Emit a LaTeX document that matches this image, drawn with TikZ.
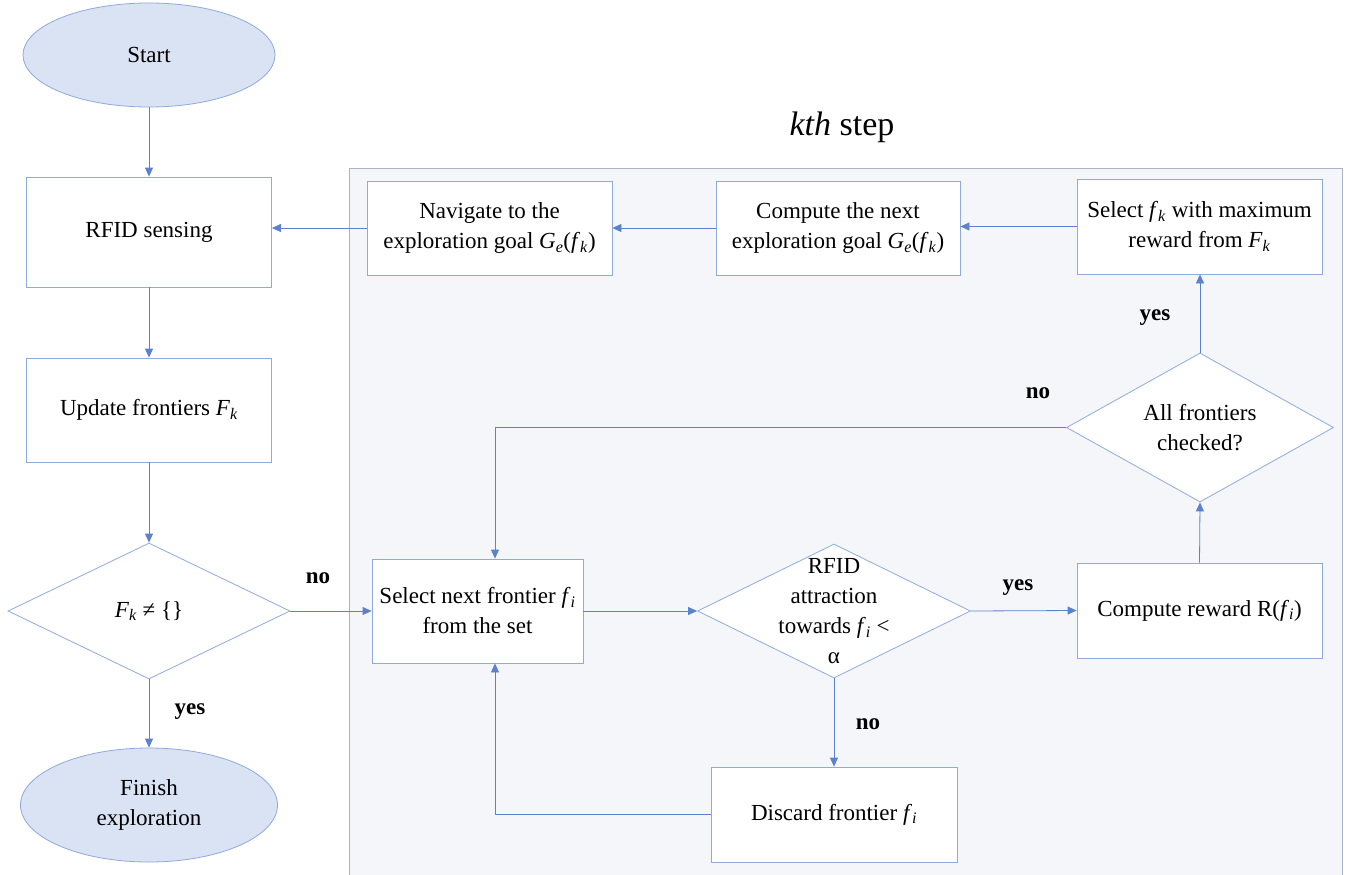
\documentclass[tikz,border=0pt]{standalone}
\usepackage{fontspec}
\setmainfont{Liberation Serif}
\usetikzlibrary{arrows.meta,shapes.geometric}
\definecolor{bord}{HTML}{8FAADC}
\definecolor{arr}{HTML}{5B82CC}
\definecolor{efill}{HTML}{DAE3F3}
\definecolor{regfill}{HTML}{F4F6FA}
\definecolor{regbord}{HTML}{A9B4C6}
\newcommand{\sv}[2]{\textit{#1}\textsubscript{\textit{#2}}}
\tikzset{
  txt/.style={font=\fontsize{23}{30}\selectfont, align=center},
  box/.style={txt, draw=bord, fill=white, line width=0.8pt, inner sep=0pt},
  term/.style={txt, ellipse, draw=bord, fill=efill, line width=0.8pt, inner sep=0pt},
  dia/.style={diamond, draw=bord, fill=white, line width=0.8pt, inner sep=0pt},
  lbl/.style={font=\fontsize{23}{26}\selectfont\bfseries},
  conn/.style={draw=arr, line width=0.8pt, -{Triangle[length=9pt,width=8pt]}},
}
\begin{document}
\begin{tikzpicture}[x=1pt,y=-1pt]
\useasboundingbox (0,0) rectangle (1354,875);
\fill[white] (0,0) rectangle (1354,875);
% kth step region
\draw[regbord, fill=regfill, line width=0.8pt] (349,168) rectangle (1342,885);
\node[txt, font=\fontsize{34}{38}\selectfont] (title) at (842,127) {\textit{kth} step};

% left column
\node[term, minimum width=252, minimum height=104] (start) at (149,55) {Start};
\node[box, minimum width=245, minimum height=110] (rfid) at (149,232) {RFID sensing};
\node[box, minimum width=245, minimum height=104] (upd) at (149,410) {Update frontiers \sv{F}{k}};
\node[dia, minimum width=282, minimum height=136] (fk) at (149,611) {};
\node[txt] (fkt) at (fk.center) {\sv{F}{k} ≠ \{\}};
\node[term, minimum width=257, minimum height=114] (finish) at (149,805) {Finish\\exploration};

% top row
\node[box, minimum width=245, minimum height=94] (nav) at (489.5,228) {Navigate to the\\exploration goal \textit{G}\textsubscript{\textit{e}}(\sv{f}{k})};
\node[box, minimum width=244, minimum height=94] (cmp) at (838,228) {Compute the next\\exploration goal \textit{G}\textsubscript{\textit{e}}(\sv{f}{k})};
\node[box, minimum width=245, minimum height=95] (sel) at (1199.5,226.5) {Select \sv{f}{k} with maximum\\reward from \sv{F}{k}};

% right diamond
\node[dia, minimum width=267, minimum height=149] (all) at (1200,427.5) {};
\node[txt] (allt) at (all.center) {All frontiers\\checked?};

% middle row
\node[box, minimum width=211, minimum height=104] (next) at (477.5,611) {Select next frontier \sv{f}{i}\\from the set};
\node[dia, minimum width=273, minimum height=134] (rdia) at (834,611) {};
\node[txt] (rdiat) at (rdia.center) {RFID\\attraction\\towards \sv{f}{i} <\\α};
\node[box, minimum width=245, minimum height=95] (reward) at (1199.5,610.5) {Compute reward R(\sv{f}{i})};
\node[box, minimum width=246, minimum height=95] (discard) at (834,814.5) {Discard frontier \sv{f}{i}};

\coordinate (jt) at (495,427.5);
\coordinate (jb) at (495,814.5);

% connectors
\draw[conn] (start.south) -- (rfid.north);
\draw[conn] (rfid.south) -- (upd.north);
\draw[conn] (upd.south) -- (fk.north);
\draw[conn] (fk.south) -- (finish.north);
\draw[conn] (fk.east) -- (next.west);
\draw[conn] (next.east) -- (rdia.west);
\draw[conn] (rdia.east) -- (reward.west);
\draw[conn] (rdia.south) -- (discard.north);
\draw[conn] (discard.west) -- (jb) -- (jb |- next.south);
\draw[conn] (reward.north) -- (all.south);
\draw[conn] (all.north) -- (all.north |- sel.south);
\draw[conn] (all.west) -- (jt) -- (jt |- next.north);
\draw[conn] (sel.west) -- (sel.west -| cmp.east);
\draw[conn] (cmp.west) -- (cmp.west -| nav.east);
\draw[conn] (nav.west) -- (nav.west -| rfid.east);

% labels
\node[lbl] (l1) at (318,578) {no};
\node[lbl] (l2) at (190,712) {yes};
\node[lbl] (l3) at (1018,588) {yes};
\node[lbl] (l4) at (868,724) {no};
\node[lbl] (l5) at (1155,318) {yes};
\node[lbl] (l6) at (1038,393) {no};
\end{tikzpicture}
\end{document}
